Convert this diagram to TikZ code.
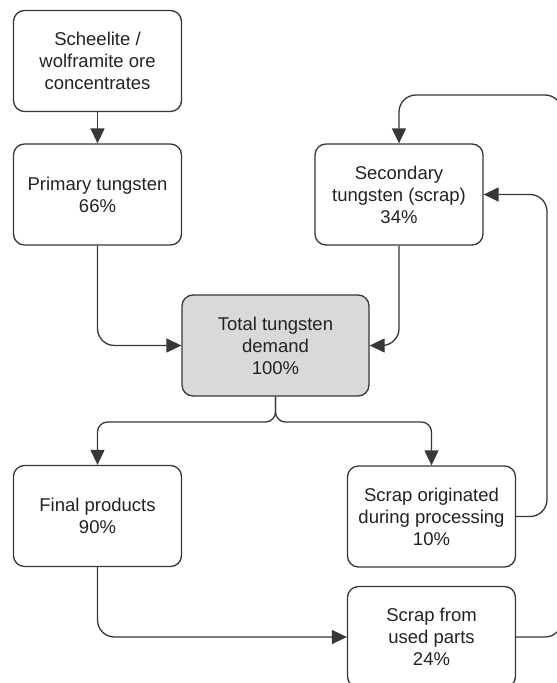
\documentclass[tikz,border=0pt]{standalone}
\usepackage{fontspec}
\setmainfont{Liberation Sans}
\usetikzlibrary{arrows.meta, positioning, calc}
\definecolor{ink_gray}{RGB}{35, 35, 35}
\definecolor{edge_gray}{RGB}{55, 55, 55}
\definecolor{demand_gray}{RGB}{217, 217, 217}

\begin{document}
\begin{tikzpicture}[
    x=1pt, y=-1pt,
    stage/.style={
        rectangle,
        draw=edge_gray,
        fill=#1,
        line width=1.3pt,
        minimum width=168pt,
        minimum height=101pt,
        text=ink_gray,
        align=center,
        rounded corners=11pt,
        font=\fontsize{18.5}{22}\selectfont
    },
    stage/.default=white,
    flow/.style={
        -{Triangle[length=15pt, width=14pt]},
        line width=1.3pt,
        draw=edge_gray,
        rounded corners=#1
    },
    flow/.default=17pt
]

\useasboundingbox (0,0) rectangle (557,683);
\clip (0,0) rectangle (557,683);

\node[stage] (ore) at (97.5,61) {Scheelite /\\ wolframite ore\\ concentrates};
\node[stage] (primary) at (97.5,194.5) {Primary tungsten\\ 66\%};
\node[stage] (secondary) at (399,194.5) {Secondary\\ tungsten (scrap)\\ 34\%};
\node[stage=demand_gray, minimum width=187pt] (total) at (275.5,345.5) {Total tungsten\\ demand\\ 100\%};
\node[stage] (final) at (97.5,516) {Final products\\ 90\%};
\node[stage] (processing) at (431.5,516.5) {Scrap originated\\ during processing\\ 10\%};
\node[stage] (used) at (431.5,637) {Scrap from\\ used parts\\ 24\%};

\coordinate (split) at (275.5,422);
\coordinate (return) at (547,194.5);
\coordinate (loop) at (562,95);

\draw[flow] (ore) -- (primary);
\draw[flow] (primary) |- (total);
\draw[flow] (secondary) |- (total);
\draw[flow=10pt] (total) -- (split) -| (final);
\draw[flow=10pt] (total) -- (split) -| (processing);
\draw[flow] (final) |- (used);
\draw[flow] (processing) -| (return) -- (secondary);
\draw[flow] (used) -| (loop) -| (secondary);

\end{tikzpicture}
\end{document}
